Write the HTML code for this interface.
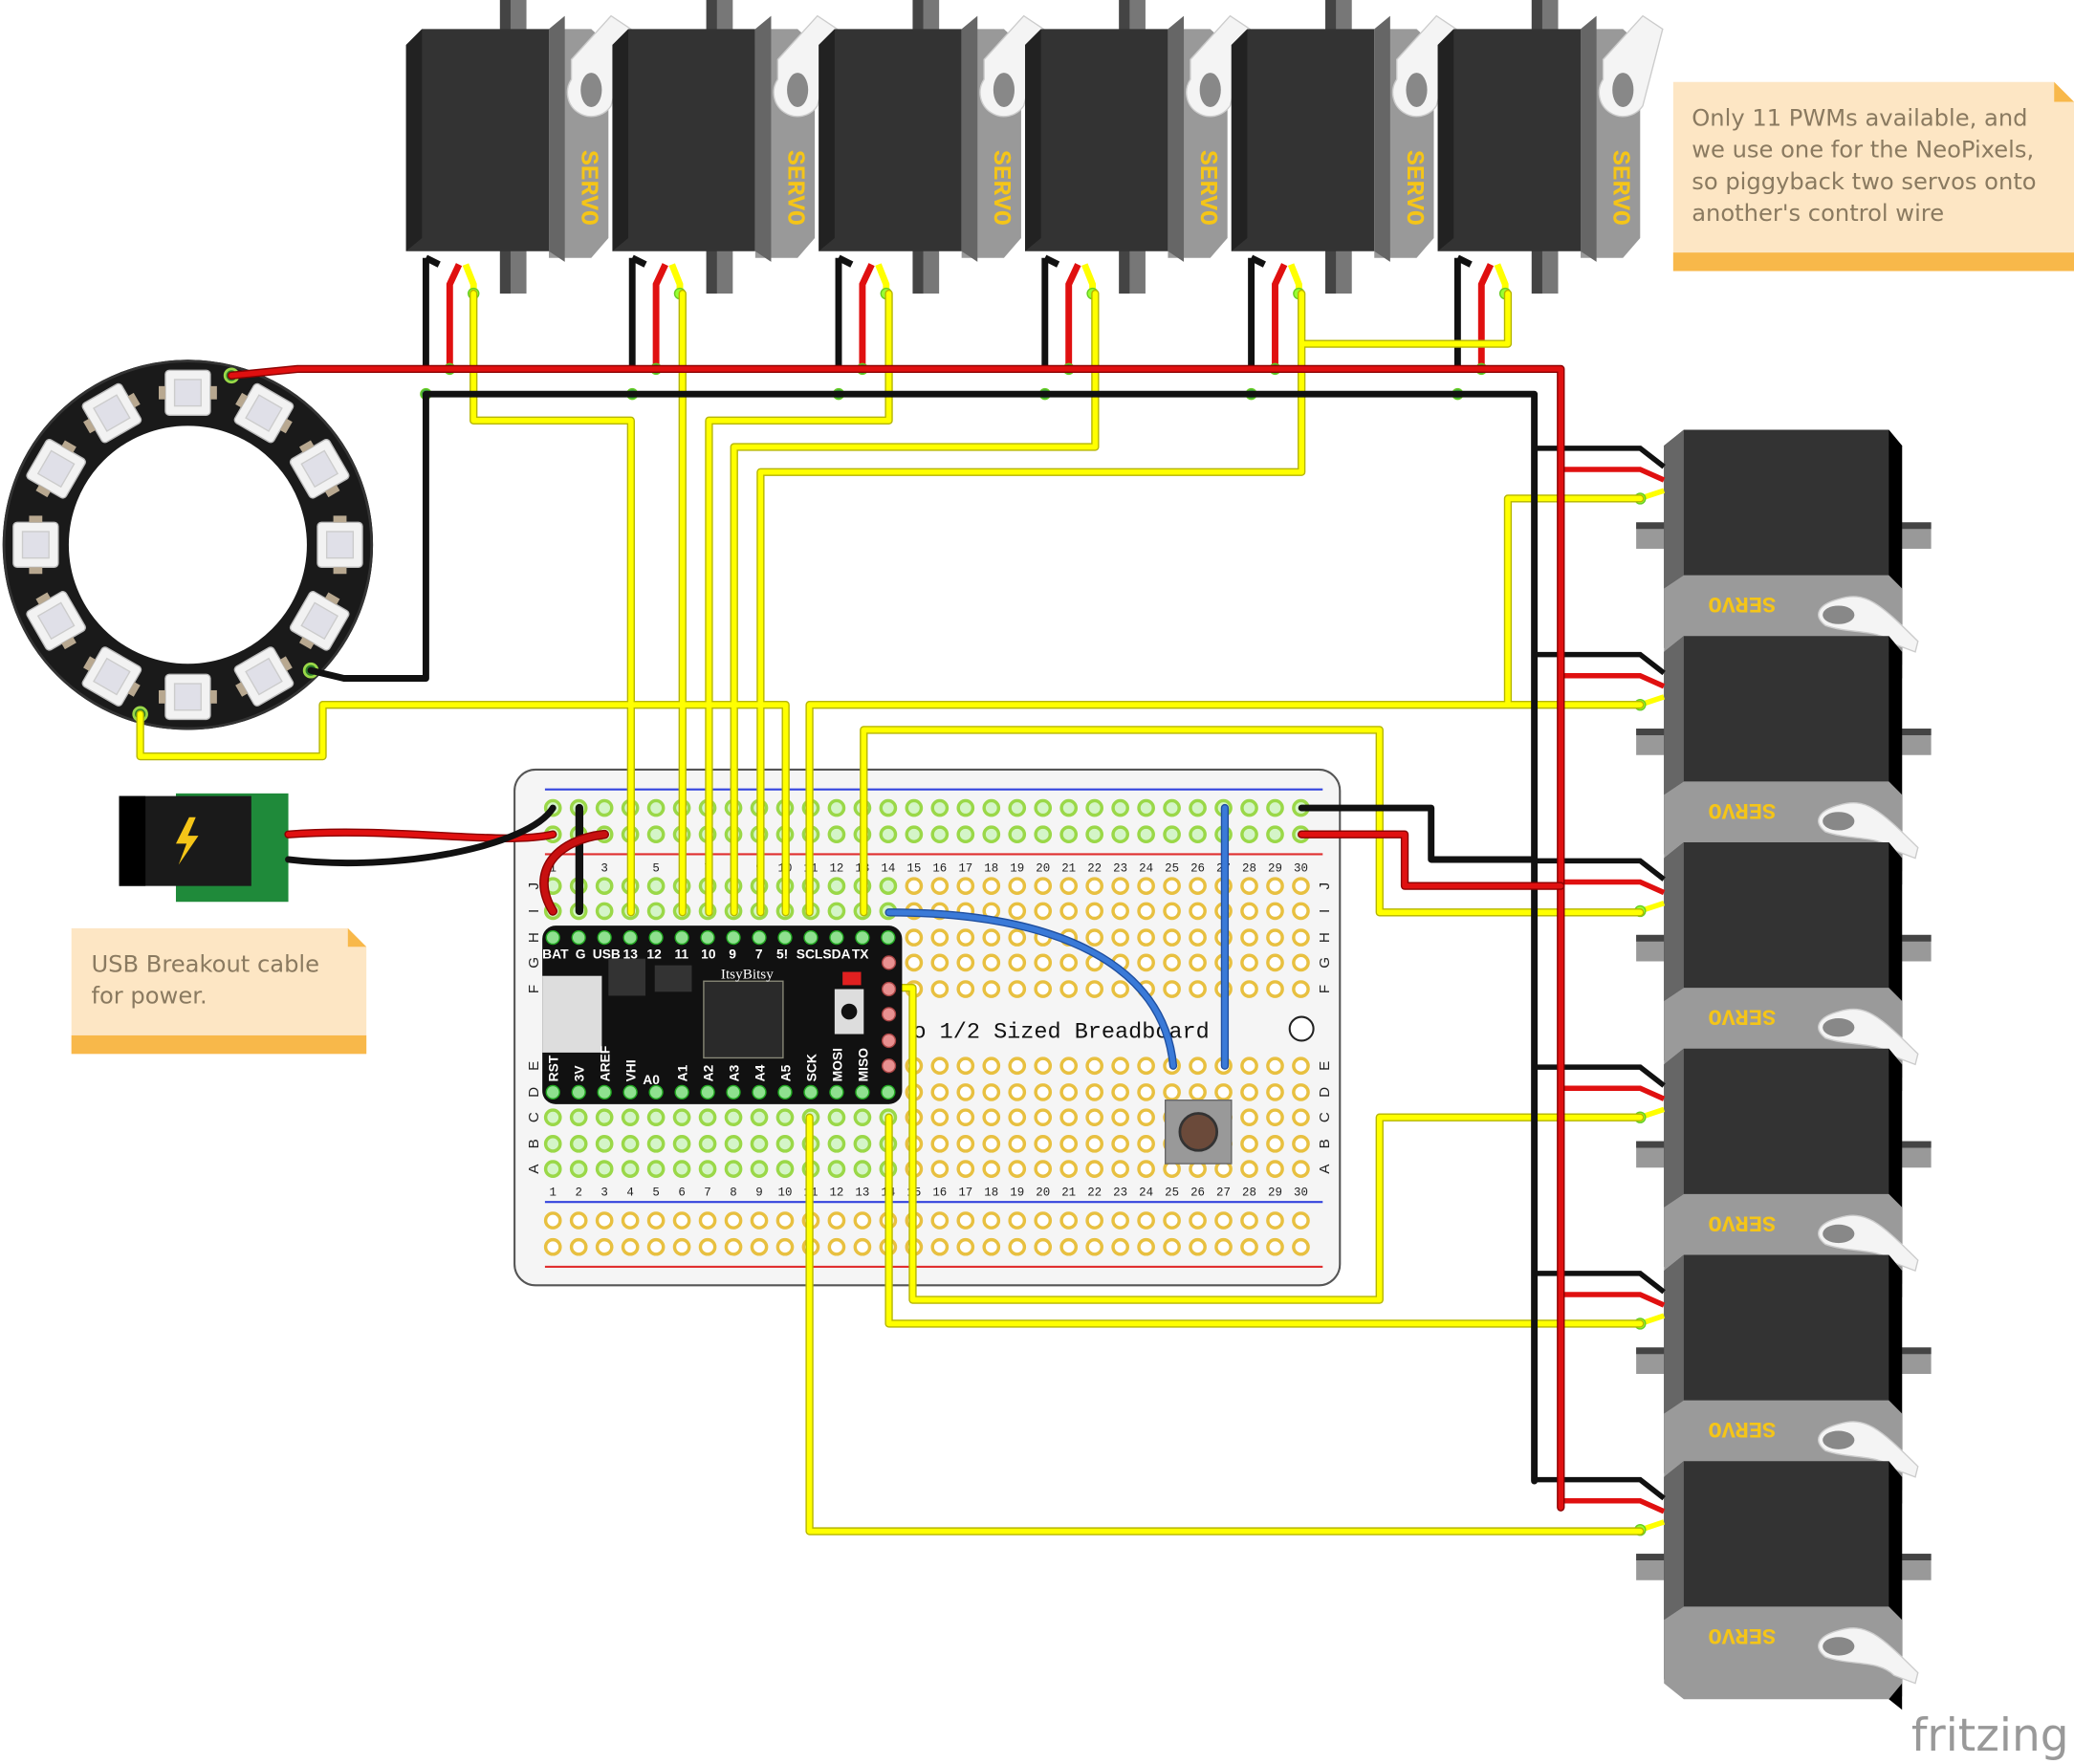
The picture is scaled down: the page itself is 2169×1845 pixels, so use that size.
<!DOCTYPE html>
<html><head><meta charset="utf-8"><style>html,body{margin:0;padding:0;background:#fff}svg{display:block}</style></head>
<body>
<svg id="s" xmlns="http://www.w3.org/2000/svg" width="2169" height="1845" viewBox="0 0 1568 1334" preserveAspectRatio="none" font-family="Liberation Sans, sans-serif">
<rect width="1568" height="1334" fill="#fff"/>
<g id="servosTop"></g>
<g id="servosRight"></g>
<!-- notes -->
<path d="M1265 62 H1553 L1568 77 V205 H1265 Z" fill="#fde6c4"/><rect x="1265" y="191" width="303" height="14" fill="#f8b84a"/><path d="M1553 62 L1568 77 H1553Z" fill="#f8b84a"/>
<text x="1279" y="95" font-size="17.5" fill="#8a7a60" font-family="DejaVu Sans, sans-serif"><tspan x="1279">Only 11 PWMs available, and</tspan><tspan x="1279" dy="24">we use one for the NeoPixels,</tspan><tspan x="1279" dy="24">so piggyback two servos onto</tspan><tspan x="1279" dy="24">another's control wire</tspan></text>
<path d="M54 702 H263 L277 716 V797 H54 Z" fill="#fde6c4"/><rect x="54" y="783" width="223" height="14" fill="#f8b84a"/><path d="M263 702 L277 716 H263Z" fill="#f8b84a"/>
<text x="69" y="735" font-size="17.5" fill="#8a7a60" font-family="DejaVu Sans, sans-serif"><tspan x="69">USB Breakout cable</tspan><tspan x="69" dy="24">for power.</tspan></text>
<text x="1445" y="1324" font-size="34" fill="#999" font-family="DejaVu Sans, sans-serif">fritzing</text>
<!-- neopixel ring -->
<circle cx="142" cy="412" r="115" fill="none" stroke="#1a1a1a" stroke-width="50"/>
<circle cx="142" cy="412" r="139" fill="none" stroke="#333" stroke-width="2"/>
<g id="leds"></g>
<!-- barrel jack -->
<rect x="133" y="600" width="85" height="82" fill="#1f8a3a"/>
<rect x="90" y="602" width="100" height="68" fill="#1a1a1a"/><rect x="90" y="602" width="20" height="68" fill="#000"/>
<path d="M143 618 L133 638 H141 L135 654 L150 632 H142 L148 618Z" fill="#f5c518"/>
<!-- breadboard -->
<rect x="389" y="582" width="624" height="390" rx="16" fill="#f5f5f5" stroke="#555" stroke-width="1.5"/>
<line x1="412" y1="597" x2="1000" y2="597" stroke="#3344dd" stroke-width="1.5"/>
<line x1="412" y1="909" x2="1000" y2="909" stroke="#3344dd" stroke-width="1.5"/>
<line x1="412" y1="646" x2="1000" y2="646" stroke="#e03030" stroke-width="1.5"/>
<line x1="412" y1="958" x2="1000" y2="958" stroke="#e03030" stroke-width="1.5"/>
<g id="holes"></g>
<text x="690" y="785" font-size="17" font-family="Liberation Mono, monospace" fill="#111">o 1/2 Sized Breadboard</text>
<circle cx="984" cy="778" r="9" fill="#fff" stroke="#222" stroke-width="1.5"/>
<!-- wires -->
<g fill="none" stroke-linejoin="round" stroke-linecap="round">
<g stroke="#b5b500" stroke-width="6">
<path id="y" d="M358 222V318H477V690 M516 222V690 M672 222V318H536V690 M828 222V338H555V690 M984 222V357H575V690 M1140 222V260H984 M106 540V572H244V533H594V690 M612 690V533H1240 M1240 377H1140V533 M653 690V552H1043V690H1240 M672 747H690V983H1043V845H1240 M672 845V1001H1240 M612 845V1158H1240"/>
</g>
<use href="#y" stroke="#ffff00" stroke-width="4"/>
<path d="M175 284 L225 279 H1180 V1140" stroke="#8b0000" stroke-width="6"/>
<path d="M175 284 L225 279 H1180 V1140" stroke="#e01010" stroke-width="4"/>
<path d="M322 298 H1160 V1120 M235 507 L260 513 H322 V298" stroke="#111" stroke-width="5"/>
<path d="M984 611H1082V650H1160" stroke="#111" stroke-width="5"/>
<path d="M984 631H1062V670H1180" stroke="#8b0000" stroke-width="6"/><path d="M984 631H1062V670H1180" stroke="#e01010" stroke-width="4"/>
<path d="M218 631 C300 625 380 640 418 631" stroke="#8b0000" stroke-width="6"/><path d="M218 631 C300 625 380 640 418 631" stroke="#e01010" stroke-width="4"/>
<path d="M218 650 C300 660 400 640 418 611" stroke="#111" stroke-width="5"/>
<path d="M438 611V689" stroke="#111" stroke-width="6"/>
<path d="M418 689 C400 660 420 635 457 631" stroke="#8b0000" stroke-width="7"/><path d="M418 689 C400 660 420 635 457 631" stroke="#c81010" stroke-width="5"/>
<path d="M672 690 C800 690 880 730 887 806" stroke="#1f4fa0" stroke-width="6"/><path d="M672 690 C800 690 880 730 887 806" stroke="#3a7ad8" stroke-width="4"/>
<path d="M926 611V806" stroke="#1f4fa0" stroke-width="6"/><path d="M926 611V806" stroke="#3a7ad8" stroke-width="4"/>
</g>
<!-- itsybitsy -->
<rect x="410" y="700" width="272" height="135" rx="10" fill="#111"/>
<rect x="410" y="738" width="45" height="58" fill="#ddd"/>
<rect x="532" y="742" width="60" height="58" fill="#2a2a2a" stroke="#887" stroke-width="1"/>
<rect x="631" y="748" width="22" height="34" fill="#ddd"/><circle cx="642" cy="765" r="6" fill="#111"/>
<rect x="460" y="725" width="28" height="28" fill="#333"/><rect x="495" y="730" width="28" height="20" fill="#333"/>
<rect x="637" y="735" width="14" height="10" fill="#e02020"/>
<g fill="#fff" font-size="10" font-weight="bold" font-family="Liberation Sans Narrow, Liberation Sans, sans-serif">
<text x="410" y="725">BAT</text><text x="435" y="725">G</text><text x="448" y="725">USB</text><text x="471" y="725">13</text><text x="489" y="725">12</text><text x="510" y="725">11</text><text x="530" y="725">10</text><text x="551" y="725">9</text><text x="571" y="725">7</text><text x="587" y="725">5!</text><text x="602" y="725">SCL</text><text x="622" y="725">SDA</text><text x="644" y="725">TX</text>
<text x="545" y="740" font-size="11" font-weight="normal" font-family="Liberation Serif, serif">ItsyBitsy</text>
<text x="486" y="820">A0</text>
</g>
<g id="pins"></g>
<!-- button -->
<rect x="881" y="832" width="50" height="48" fill="#999" stroke="#666"/><circle cx="906" cy="856" r="14" fill="#6b4a3a" stroke="#333" stroke-width="2"/>
<script>
var NS="http://www.w3.org/2000/svg";
function el(p,t,a,txt){var e=document.createElementNS(NS,t);for(var k in a)e.setAttribute(k,a[k]);if(txt)e.textContent=txt;p.appendChild(e);return e;}
var H=document.getElementById('holes');
var cols=[];for(var i=0;i<30;i++)cols.push(418+i*19.5);
var rows=[611,631,670,689,709,728,748,806,826,845,865,884,923,943];
rows.forEach(function(y,ri){cols.forEach(function(x,ci){
 var green=(ri<2)||((ri==2||ri==3||ri>=9&&ri<=11)&&ci<14);
 el(H,'circle',{cx:x,cy:y,r:5.5,fill:green?'#d4f5c8':'#fff',stroke:green?'#9ad848':'#e8c040','stroke-width':2.5});
});});
cols.forEach(function(x,i){var n=(i+1)+'';el(H,'text',{x:x,y:659,'font-size':9,'text-anchor':'middle','font-family':'Liberation Mono, monospace',fill:'#222'},n);el(H,'text',{x:x,y:904,'font-size':9,'text-anchor':'middle','font-family':'Liberation Mono, monospace',fill:'#222'},n);});
function lab(arr,ys){arr.forEach(function(l,i){var y=ys[i];[403,1001].forEach(function(x){el(H,'text',{x:x,y:y+4,'font-size':11,'text-anchor':'middle',fill:'#222',transform:'rotate(-90 '+x+' '+y+')'},l);});});}
lab(['J','I','H','G','F'],[670,689,709,728,748]);lab(['E','D','C','B','A'],[806,826,845,865,884]);
var P=document.getElementById('pins');
for(var i=0;i<14;i++){el(P,'circle',{cx:418+i*19.5,cy:709,r:5,fill:'#8fe08f',stroke:'#2a2','stroke-width':1});el(P,'circle',{cx:418+i*19.5,cy:826,r:5,fill:'#8fe08f',stroke:'#2a2','stroke-width':1});}
[728,748,767,787,806].forEach(function(y){el(P,'circle',{cx:672,cy:y,r:5,fill:'#e89090',stroke:'#a44','stroke-width':1});});
var bl=['RST','3V','AREF','VHI','','A1','A2','A3','A4','A5','SCK','MOSI','MISO',''];
bl.forEach(function(t,i){if(!t)return;var x=418+i*19.5+4,y=818;el(P,'text',{x:x,y:y,'font-size':10,'font-weight':'bold',fill:'#fff',transform:'rotate(-90 '+x+' '+y+')'},t);});
var L=document.getElementById('leds');
for(var i=0;i<12;i++){var a=i*Math.PI/6,x=142+115*Math.sin(a),y=412-115*Math.cos(a);
 var g=el(L,'g',{transform:'translate('+x+' '+y+') rotate('+(i*30)+')'});
 el(g,'rect',{x:-17,y:-17,width:34,height:34,rx:3,fill:'#f2f2f2',stroke:'#bbb'});
 el(g,'rect',{x:-10,y:-10,width:20,height:20,fill:'#e0e0e8',stroke:'#ccc'});
 el(g,'rect',{x:-22,y:-5,width:5,height:10,fill:'#b8a890'});el(g,'rect',{x:17,y:-5,width:5,height:10,fill:'#b8a890'});}
[[175,284],[235,507],[106,540]].forEach(function(p){el(L,'circle',{cx:p[0],cy:p[1],r:5,fill:'#2a7a2a',stroke:'#9ad848','stroke-width':2});});
var T=document.getElementById('servosTop');
for(var i=0;i<6;i++){var x=307+i*156,g=el(T,'g',{transform:'translate('+x+' 0)'});
 el(g,'rect',{x:71,y:0,width:20,height:222,fill:'#777'});el(g,'rect',{x:71,y:0,width:8,height:222,fill:'#444'});
 el(g,'path',{d:'M12 22 H108 V190 H0 V34Z',fill:'#333'});
 el(g,'path',{d:'M0 34 L12 22 V180 L0 190Z',fill:'#222'});
 el(g,'path',{d:'M108 22 H140 L153 34 V180 L140 195 H108Z',fill:'#999'});
 el(g,'path',{d:'M108 22 L120 12 V198 L108 190Z',fill:'#666'});
 el(g,'path',{d:'M125 45 L155 12 L170 22 L155 80 A16 16 0 1 1 125 60Z',fill:'#f4f4f4',stroke:'#ccc'});
 el(g,'ellipse',{cx:140,cy:68,rx:8,ry:13,fill:'#888'});
 var tx=133,ty=142;el(g,'text',{x:tx,y:ty,'font-size':19,'font-weight':'bold','text-anchor':'middle',fill:'#f5c518','font-family':'Liberation Mono, monospace',transform:'rotate(90 '+tx+' '+ty+')'},'SERVO');
 el(g,'path',{d:'M15 195 L15 280 M15 195 L25 200',stroke:'#111','stroke-width':5,fill:'none'});
 el(g,'path',{d:'M40 200 L33 215 L33 280',stroke:'#e01010','stroke-width':5,fill:'none'});
 el(g,'path',{d:'M45 200 L51 215 L51 222',stroke:'#ff0','stroke-width':5,fill:'none'});
 el(g,'circle',{cx:51,cy:222,r:4,fill:'#9f3',stroke:'#6c2'});
 el(g,'circle',{cx:33,cy:279,r:4,fill:'#4a4',stroke:'#6c2'});el(g,'circle',{cx:15,cy:298,r:4,fill:'#4a4',stroke:'#6c2'});
}
var R=document.getElementById('servosRight');
for(var i=0;i<6;i++){var y=325+i*156,g=el(R,'g',{transform:'translate(0 '+y+')'});
 el(g,'rect',{x:1237,y:70,width:223,height:20,fill:'#999'});el(g,'rect',{x:1237,y:70,width:223,height:5,fill:'#444'});
 el(g,'path',{d:'M1273 0 H1428 L1438 12 V178 L1428 165 H1258 V12Z',fill:'#333'});
 el(g,'path',{d:'M1428 0 L1438 12 V188 L1428 180Z',fill:'#000'});
 el(g,'path',{d:'M1258 12 L1273 0 V110 L1258 120Z',fill:'#666'});
 el(g,'path',{d:'M1273 110 H1428 L1438 120 V168 L1428 180 H1273 L1258 168 V120Z',fill:'#9a9a9a'});
 el(g,'path',{d:'M1390 128 C1410 122 1420 130 1450 160 L1448 168 L1432 162 C1420 150 1400 155 1380 148 C1370 140 1375 132 1390 128Z',fill:'#f4f4f4',stroke:'#ccc'});
 el(g,'ellipse',{cx:1390,cy:140,rx:12,ry:7,fill:'#888'});
 el(g,'text',{x:1317,y:139,'font-size':17,'font-weight':'bold','text-anchor':'middle',fill:'#f5c518','font-family':'Liberation Mono, monospace',transform:'rotate(180 1317 133)'},'SERVO');
 el(g,'path',{d:'M1160 14 H1240 L1258 28',stroke:'#111','stroke-width':4,fill:'none'});
 el(g,'path',{d:'M1180 30 H1240 L1258 38',stroke:'#e01010','stroke-width':4,fill:'none'});
 el(g,'path',{d:'M1240 52 L1258 46',stroke:'#ff0','stroke-width':4,fill:'none'});
 el(g,'circle',{cx:1240,cy:52,r:4,fill:'#9f3',stroke:'#6c2'});
}
</script>
</svg>
</body></html>
